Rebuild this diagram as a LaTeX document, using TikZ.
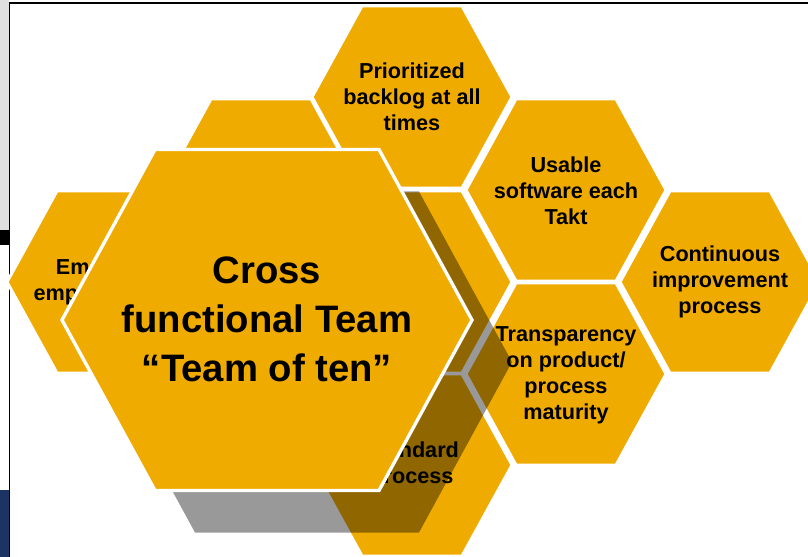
\documentclass[tikz,border=0pt]{standalone}
\usepackage{fontspec}
\setmainfont{Liberation Sans}
\usetikzlibrary{calc}
\definecolor{hexgold}{RGB}{240,171,0}
\definecolor{navyband}{RGB}{28,52,100}

% flat-topped cell of the honeycomb, centred on a coordinate
\newcommand{\hexcell}[1]{\path[hexfill,shift={(#1)}] (-100,0) -- (-50,-91) -- (50,-91) -- (100,0) -- (50,91) -- (-50,91) -- cycle;}
\newcommand{\bighex}{(-205,0) -- (-112,-170.5) -- (112,-170.5) -- (205,0) -- (112,170.5) -- (-112,170.5) -- cycle}

\begin{document}
\begin{tikzpicture}[
  x=0.025cm,y=-0.025cm,
  hexfill/.style={fill=hexgold,draw=white,line width=2.1pt},
  cell/.style={align=center,text=black,font=\fontsize{15.4}{18.5}\selectfont\bfseries},
  teamtext/.style={align=center,text=black,font=\fontsize{27.2}{34.9}\selectfont\bfseries}
]
\useasboundingbox (0,0) rectangle (808,557);
\fill[white] (0,0) rectangle (808,557);
% bits of the window behind the slide
\fill[black!12] (0,0) rectangle (9,230);
\fill[black] (0,230) rectangle (9,245);
\fill[navyband] (0,490) rectangle (9,557);
\draw[black,line width=1.4pt] (9.5,557) -- (9.5,3) -- (808,3);

% cell centres
\coordinate (cback)  at (261,190);
\coordinate (cempl)  at (107,282);
\coordinate (cprio)  at (412,97);
\coordinate (cmid)   at (412,282);
\coordinate (cstd)   at (412,465);
\coordinate (cusable) at (566,190);
\coordinate (ctransp) at (566,374);
\coordinate (cimprove) at (720,282);
\coordinate (cteam)  at (267,320);

\foreach \c in {cback,cempl,cprio,cmid,cstd,cusable,ctransp,cimprove}{
  \hexcell{\c}
}

\node[cell] (empl)    at (cempl)    {Employee\\empowerment};
\node[cell] (prio)    at (cprio)    {Prioritized\\backlog at all\\times};
\node[cell] (usable)  at ($(cusable)+(0,1)$)  {Usable\\software each\\Takt};
\node[cell] (improve) at (cimprove) {Continuous\\improvement\\process};
\node[cell] (transp)  at ($(ctransp)+(0,1)$)  {Transparency\\on product/\\process\\maturity};
\node[cell] (std)     at (cstd)     {Standard\\process};

% shadow of the big cell
\fill[black,opacity=0.4,shift={($(cteam)+(40,42)$)}] \bighex;
\path[hexfill,line width=2.4pt,shift={(cteam)}] \bighex;
\node[teamtext] (team) at ($(cteam)+(0,-1)$) {Cross\\functional Team\\“Team of ten”};
\end{tikzpicture}
\end{document}
